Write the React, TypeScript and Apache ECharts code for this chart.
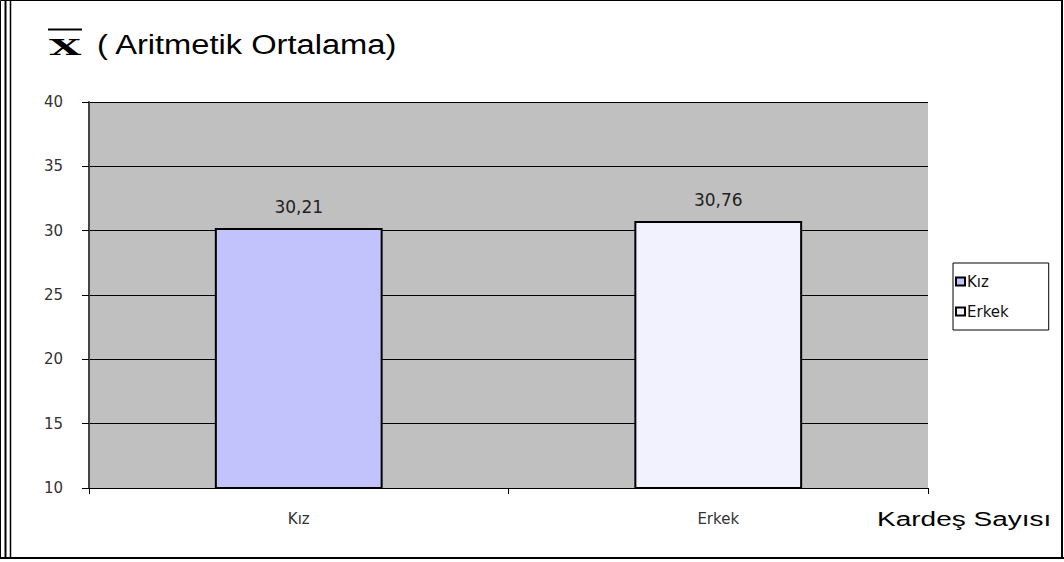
import React, { useEffect, useRef } from "react";
import * as echarts from "echarts";

const categories = ["Kız", "Erkek"];
const seriesNames = ["Kız", "Erkek"];
const kizValues: (number | string)[] = [30.21, "-"];
const erkekValues: (number | string)[] = ["-", 30.76];
const yMin = 10;
const yMax = 40;
const yInterval = 5;

const FONT = "DejaVu Sans, Verdana, sans-serif";

export default function App() {
  const ref = useRef<HTMLDivElement>(null);
  useEffect(() => {
    document.body.style.margin = "0";
    const chart = echarts.init(ref.current!, undefined, { renderer: "svg" });
    const labelFmt = (p: any) => String(p.value).replace(".", ",");
    chart.setOption({
      animation: false,
      backgroundColor: "#ffffff",
      grid: { left: 89, right: 136, top: 102, bottom: 74 },
      legend: {
        orient: "vertical",
        left: 953,
        top: 263,
        borderColor: "#000",
        borderWidth: 1,
        padding: [11, 40, 11, 2],
        itemGap: 15,
        itemWidth: 9,
        itemHeight: 8,
        icon: "rect",
        textStyle: { fontFamily: FONT, fontSize: 15, color: "#111", padding: [0, 0, 0, -3] },
        data: seriesNames,
      },
      xAxis: {
        type: "category",
        data: categories,
        axisLine: { lineStyle: { color: "#000", width: 1 } },
        axisTick: { show: true, alignWithLabel: false, length: 6, lineStyle: { color: "#000" } },
        axisLabel: { color: "#333", fontSize: 15, fontFamily: FONT, margin: 23 },
      },
      yAxis: {
        type: "value",
        min: yMin,
        max: yMax,
        interval: yInterval,
        axisLine: { show: true, lineStyle: { color: "#444", width: 2 } },
        axisTick: { show: true, inside: false, length: 7, lineStyle: { color: "#000" } },
        axisLabel: { color: "#333", fontSize: 15, fontFamily: FONT, margin: 26 },
        splitLine: { show: true, lineStyle: { color: "#000", width: 1 } },
        splitArea: { show: true, areaStyle: { color: ["#c0c0c0", "#c0c0c0"] } },
      },
      series: [
        {
          name: seriesNames[0],
          type: "bar",
          data: kizValues,
          barWidth: "40%",
          barGap: "-100%",
          itemStyle: { color: "#c2c2fc", borderColor: "#000", borderWidth: 2 },
          label: { show: true, position: "top", distance: 12, formatter: labelFmt, color: "#222", fontSize: 17, fontFamily: FONT },
        },
        {
          name: seriesNames[1],
          type: "bar",
          data: erkekValues,
          barWidth: "40%",
          barGap: "-100%",
          itemStyle: { color: "#f2f2fe", borderColor: "#000", borderWidth: 2 },
          label: { show: true, position: "top", distance: 12, formatter: labelFmt, color: "#222", fontSize: 17, fontFamily: FONT },
        },
      ],
      graphic: [
        { type: "rect", shape: { x: 0.5, y: 0.5, width: 1062, height: 558 }, style: { fill: "none", stroke: "#000", lineWidth: 1 }, z: 100 },
        { type: "line", shape: { x1: 5.5, y1: 0, x2: 5.5, y2: 559 }, style: { stroke: "#000", lineWidth: 2 }, z: 100 },
        { type: "line", shape: { x1: 10.5, y1: 0, x2: 10.5, y2: 559 }, style: { stroke: "#000", lineWidth: 1.5 }, z: 100 },
        { type: "line", shape: { x1: 0, y1: 558, x2: 1064, y2: 558 }, style: { stroke: "#000", lineWidth: 2 }, z: 100 },
        { type: "line", shape: { x1: 1062, y1: 0, x2: 1062, y2: 559 }, style: { stroke: "#000", lineWidth: 2 }, z: 100 },
        { type: "text", x: 49, y: 47, scaleX: 1.8, style: { text: "X", fontFamily: "DejaVu Serif, serif", fontWeight: "bold", fontSize: 23, fill: "#000", textAlign: "left", textVerticalAlign: "middle" } },
        { type: "line", shape: { x1: 48, y1: 29.5, x2: 82, y2: 29.5 }, style: { stroke: "#000", lineWidth: 2 } },
        { type: "text", x: 97, y: 45, scaleX: 1.21, style: { text: "( Aritmetik Ortalama)", fontFamily: "Arial, Liberation Sans, sans-serif", fontSize: 27, fill: "#000", textAlign: "left", textVerticalAlign: "middle" } },
        { type: "text", x: 877, y: 519, scaleX: 1.4, style: { text: "Kardeş Sayısı", fontFamily: "Arial, Liberation Sans, sans-serif", fontSize: 20, fill: "#000", textAlign: "left", textVerticalAlign: "middle" } },
      ],
    });
    return () => chart.dispose();
  }, []);
  return <div ref={ref} style={{ position: "fixed", left: 0, top: 0, width: 1064, height: 562 }} />;
}
